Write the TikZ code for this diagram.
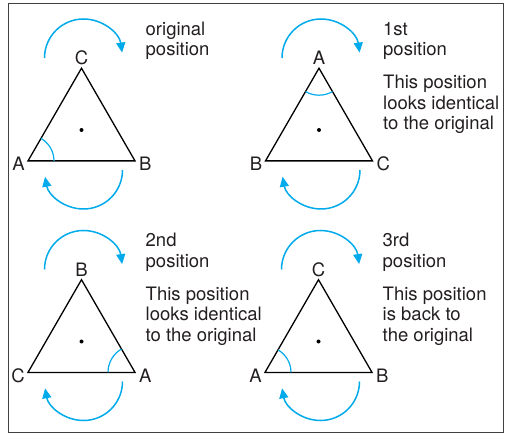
\documentclass[tikz,border=0pt]{standalone}
\usepackage{fontspec}
\setmainfont{TeX Gyre Heros}
\usepackage{tikz}
\usetikzlibrary{
  positioning,
  arrows.meta,
  calc
}
\definecolor{turncyan}{RGB}{0,170,235}
\definecolor{textgray}{RGB}{35,31,32}

\begin{document}
\begin{tikzpicture}[
  x=1pt, y=1pt,
  font=\fontsize{18.5}{20.7}\selectfont,
  frame/.style={
    draw=black!75,
    line width=1pt
  },
  tri/.style={
    draw=black,
    line width=1.3pt,
    line join=miter
  },
  spinarrow/.style={
    draw=turncyan,
    line width=1.5pt,
    -{Triangle[length=10pt,width=9pt]}
  },
  anglemark/.style={
    draw=turncyan,
    line width=1.2pt
  },
  vlabel/.style={
    inner sep=0pt,
    text=textgray
  },
  posnote/.style={
    anchor=base west,
    align=left,
    inner sep=0pt,
    text=textgray
  }
]
\useasboundingbox (0,0) rectangle (506,434);
\draw[frame] (8,2) rectangle (503,430);

% Original position
\begin{scope}[shift={(81.5,304)}]
  \coordinate (c1) at (0,0);
  \coordinate (t1) at (0,61.8);
  \coordinate (l1) at (-53.5,-30.9);
  \coordinate (r1) at (53.5,-30.9);
  \coordinate (up1) at (-37,72);
  \coordinate (lo1) at (41,-40);
  \draw[tri] (l1) -- (r1) -- (t1) -- cycle;
  \fill (c1) circle (2);
  \draw[anglemark] ($(l1)+(26,0)$) arc[start angle=0, end angle=60, radius=26];
  \draw[spinarrow] (up1) arc[start angle=180, end angle=8, radius=39];
  \draw[spinarrow] (lo1) arc[start angle=0, end angle=-170, radius=39];
  \node[vlabel, above=3pt of t1] (v1C) {C};
  \node[vlabel, left=3pt of l1, yshift=-3pt] (v1A) {A};
  \node[vlabel, right=4pt of r1, yshift=-3pt] (v1B) {B};
  \node[posnote] (h1) at (64,74) {original\\position};
\end{scope}

% 1st position
\begin{scope}[shift={(319,304)}]
  \coordinate (c2) at (0,0);
  \coordinate (t2) at (0,61.8);
  \coordinate (l2) at (-53.5,-30.9);
  \coordinate (r2) at (53.5,-30.9);
  \coordinate (up2) at (-37,72);
  \coordinate (lo2) at (41,-40);
  \draw[tri] (l2) -- (r2) -- (t2) -- cycle;
  \fill (c2) circle (2);
  \draw[anglemark] ($(t2)+(240:27)$) arc[start angle=240, end angle=300, radius=27];
  \draw[spinarrow] (up2) arc[start angle=180, end angle=8, radius=39];
  \draw[spinarrow] (lo2) arc[start angle=0, end angle=-170, radius=39];
  \node[vlabel, above=3pt of t2] (v2A) {A};
  \node[vlabel, left=3pt of l2, yshift=-3pt] (v2B) {B};
  \node[vlabel, right=4pt of r2, yshift=-3pt] (v2C) {C};
  \node[posnote] (h2) at (64,74) {1st\\position};
  \node[posnote] (b2) at (64,0) {This position\\looks identical\\to the original};
\end{scope}

% 2nd position
\begin{scope}[shift={(81.5,92.5)}]
  \coordinate (c3) at (0,0);
  \coordinate (t3) at (0,61.8);
  \coordinate (l3) at (-53.5,-30.9);
  \coordinate (r3) at (53.5,-30.9);
  \coordinate (up3) at (-37,72);
  \coordinate (lo3) at (41,-40);
  \draw[tri] (l3) -- (r3) -- (t3) -- cycle;
  \fill (c3) circle (2);
  \draw[anglemark] ($(r3)+(120:27)$) arc[start angle=120, end angle=180, radius=27];
  \draw[spinarrow] (up3) arc[start angle=180, end angle=8, radius=39];
  \draw[spinarrow] (lo3) arc[start angle=0, end angle=-170, radius=39];
  \node[vlabel, above=3pt of t3] (v3B) {B};
  \node[vlabel, left=3pt of l3, yshift=-3pt] (v3C) {C};
  \node[vlabel, right=4pt of r3, yshift=-3pt] (v3A) {A};
  \node[posnote] (h3) at (64,74) {2nd\\position};
  \node[posnote] (b3) at (64,0) {This position\\looks identical\\to the original};
\end{scope}

% 3rd position
\begin{scope}[shift={(318.5,92.5)}]
  \coordinate (c4) at (0,0);
  \coordinate (t4) at (0,61.8);
  \coordinate (l4) at (-53.5,-30.9);
  \coordinate (r4) at (53.5,-30.9);
  \coordinate (up4) at (-37,72);
  \coordinate (lo4) at (41,-40);
  \draw[tri] (l4) -- (r4) -- (t4) -- cycle;
  \fill (c4) circle (2);
  \draw[anglemark] ($(l4)+(26,0)$) arc[start angle=0, end angle=60, radius=26];
  \draw[spinarrow] (up4) arc[start angle=180, end angle=8, radius=39];
  \draw[spinarrow] (lo4) arc[start angle=0, end angle=-170, radius=39];
  \node[vlabel, above=3pt of t4] (v4C) {C};
  \node[vlabel, left=3pt of l4, yshift=-3pt] (v4A) {A};
  \node[vlabel, right=4pt of r4, yshift=-3pt] (v4B) {B};
  \node[posnote] (h4) at (64,74) {3rd\\position};
  \node[posnote] (b4) at (64,0) {This position\\is back to\\the original};
\end{scope}

\end{tikzpicture}
\end{document}
